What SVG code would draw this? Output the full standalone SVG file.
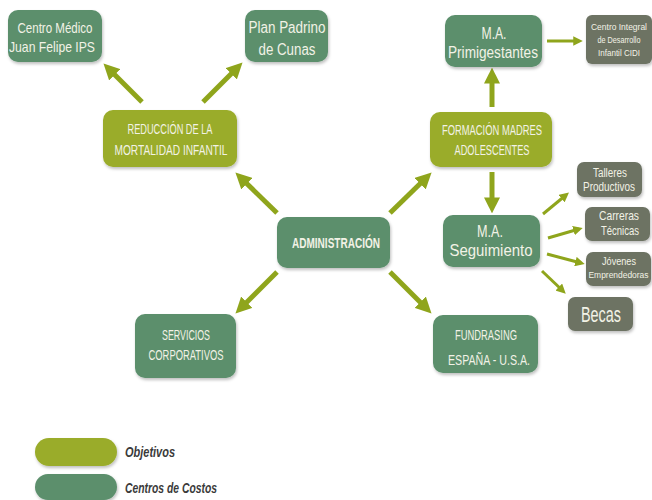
<svg xmlns="http://www.w3.org/2000/svg" width="652" height="500" viewBox="0 0 652 500">
<defs>
<marker id="ah" viewBox="0 0 10 10" refX="6" refY="5" markerWidth="3.2" markerHeight="3.2" orient="auto" markerUnits="strokeWidth">
<path d="M0,0 L10,5 L0,10 z" fill="#8fa51c"/>
</marker>
<filter id="sh" x="-10%" y="-10%" width="130%" height="140%">
<feDropShadow dx="1" dy="2" stdDeviation="1.5" flood-color="#000" flood-opacity="0.25"/>
</filter>
</defs>
<style>
.obj{fill:#9aac2b;filter:url(#sh)}
.cc{fill:#5b8f6c;filter:url(#sh)}
.gr{fill:#6d7364;filter:url(#sh)}
text{font-family:"Liberation Sans",Arial,sans-serif;fill:#f2f2e6;text-anchor:middle}
.cap{font-size:14px}
.conn line{stroke:#8fa51c;stroke-width:5;marker-end:url(#ah)}
.conn line.th{stroke-width:3}
.leg{fill:#3a3a3a;text-anchor:start;font-style:italic;font-weight:bold;font-size:14px}
</style>
<rect width="652" height="500" fill="#fff"/>
<g class="conn">
<line x1="142" y1="102" x2="108" y2="68"/>
<line x1="203" y1="102" x2="238" y2="67"/>
<line x1="277" y1="213" x2="240" y2="177"/>
<line x1="390" y1="213" x2="427" y2="177"/>
<line x1="277" y1="272" x2="240" y2="309"/>
<line x1="390" y1="272" x2="427" y2="309"/>
<line x1="492" y1="107" x2="492" y2="74"/>
<line x1="492" y1="172" x2="492" y2="207"/>
<line class="th" x1="547" y1="41" x2="579" y2="41"/>
<line class="th" x1="543" y1="214" x2="566" y2="195"/>
<line class="th" x1="548" y1="238" x2="579" y2="229"/>
<line class="th" x1="547" y1="254" x2="581" y2="263"/>
<line class="th" x1="542" y1="271" x2="563" y2="291"/>
</g>
<g id="centro-medico"><rect class="cc" x="8" y="10" width="94" height="52" rx="10"/><text x="55" y="33" font-size="15" textLength="75" lengthAdjust="spacingAndGlyphs">Centro Médico</text><text x="52" y="52" font-size="15" textLength="86" lengthAdjust="spacingAndGlyphs">Juan Felipe IPS</text></g>
<g id="plan-padrino"><rect class="cc" x="245" y="10" width="83" height="52" rx="10"/><text x="287" y="33" font-size="16" textLength="77" lengthAdjust="spacingAndGlyphs">Plan Padrino</text><text x="287" y="55" font-size="16" textLength="57" lengthAdjust="spacingAndGlyphs">de Cunas</text></g>
<g id="reduccion"><rect class="obj" x="103" y="110" width="134" height="57" rx="10"/><text class="cap" x="170" y="134" textLength="85" lengthAdjust="spacingAndGlyphs">REDUCCIÓN DE LA</text><text class="cap" x="171" y="155" textLength="113" lengthAdjust="spacingAndGlyphs">MORTALIDAD INFANTIL</text></g>
<g id="primigestantes"><rect class="cc" x="445" y="15" width="97" height="52" rx="10"/><text x="494" y="39" font-size="16" textLength="25" lengthAdjust="spacingAndGlyphs">M.A.</text><text x="493" y="58" font-size="16" textLength="90" lengthAdjust="spacingAndGlyphs">Primigestantes</text></g>
<g id="cidi"><rect class="gr" x="586" y="15" width="66" height="49" rx="6"/><text x="619" y="30" font-size="9" textLength="56" lengthAdjust="spacingAndGlyphs">Centro Integral</text><text x="619" y="43" font-size="9" textLength="43" lengthAdjust="spacingAndGlyphs">de Desarrollo</text><text x="619" y="56" font-size="9" textLength="42" lengthAdjust="spacingAndGlyphs">Infantil CIDI</text></g>
<g id="formacion"><rect class="obj" x="430" y="112" width="122" height="55" rx="10"/><text class="cap" x="492" y="135" textLength="100" lengthAdjust="spacingAndGlyphs">FORMACIÓN MADRES</text><text class="cap" x="492" y="155" textLength="75" lengthAdjust="spacingAndGlyphs">ADOLESCENTES</text></g>
<g id="seguimiento"><rect class="cc" x="443" y="215" width="97" height="52" rx="10"/><text x="490" y="237" font-size="16" textLength="26" lengthAdjust="spacingAndGlyphs">M.A.</text><text x="491" y="256" font-size="16" textLength="83" lengthAdjust="spacingAndGlyphs">Seguimiento</text></g>
<g id="talleres"><rect class="gr" x="577" y="162" width="65" height="35" rx="7"/><text x="610" y="177" font-size="12.5" textLength="34" lengthAdjust="spacingAndGlyphs">Talleres</text><text x="609" y="191" font-size="12.5" textLength="52" lengthAdjust="spacingAndGlyphs">Productivos</text></g>
<g id="carreras"><rect class="gr" x="585" y="207" width="65" height="34" rx="7"/><text x="619" y="220" font-size="13" textLength="40" lengthAdjust="spacingAndGlyphs">Carreras</text><text x="620" y="235" font-size="13" textLength="38" lengthAdjust="spacingAndGlyphs">Técnicas</text></g>
<g id="jovenes"><rect class="gr" x="586" y="252" width="65" height="34" rx="7"/><text x="619" y="265" font-size="10" textLength="34" lengthAdjust="spacingAndGlyphs">Jóvenes</text><text x="618.5" y="278" font-size="8.5" textLength="60" lengthAdjust="spacingAndGlyphs">Emprendedoras</text></g>
<g id="becas"><rect class="gr" x="568" y="297" width="65" height="34" rx="7"/><text x="601" y="322" font-size="22" textLength="40" lengthAdjust="spacingAndGlyphs">Becas</text></g>
<g id="administracion"><rect class="cc" x="277" y="217" width="113" height="51" rx="10"/><text x="336" y="248" font-size="15" font-weight="bold" fill="#fafaf2" textLength="88" lengthAdjust="spacingAndGlyphs">ADMINISTRACIÓN</text></g>
<g id="servicios"><rect class="cc" x="135" y="314" width="101" height="64" rx="10"/><text class="cap" x="186" y="340" textLength="48" lengthAdjust="spacingAndGlyphs">SERVICIOS</text><text class="cap" x="186" y="360" textLength="75" lengthAdjust="spacingAndGlyphs">CORPORATIVOS</text></g>
<g id="fundrasing"><rect class="cc" x="433" y="315" width="105" height="58" rx="10"/><text class="cap" x="486" y="340" textLength="62" lengthAdjust="spacingAndGlyphs">FUNDRASING</text><text class="cap" x="489" y="365" textLength="82" lengthAdjust="spacingAndGlyphs">ESPAÑA - U.S.A.</text></g>
<g id="legend">
<rect class="obj" x="35" y="438" width="82" height="28" rx="14"/>
<text class="leg" x="125" y="457" textLength="50" lengthAdjust="spacingAndGlyphs">Objetivos</text>
<rect class="cc" x="35" y="474" width="82" height="26" rx="13"/>
<text class="leg" x="125" y="493" textLength="92" lengthAdjust="spacingAndGlyphs">Centros de Costos</text>
</g>
</svg>
